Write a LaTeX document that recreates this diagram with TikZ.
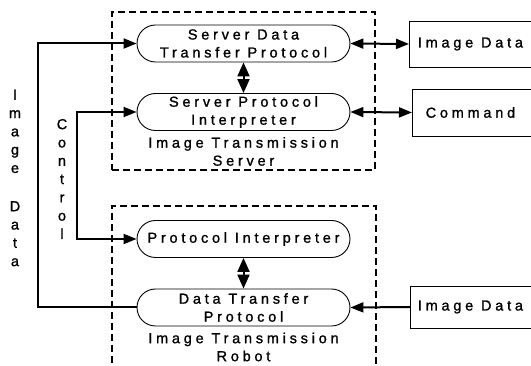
\documentclass[tikz,border=0pt]{standalone}
\usepackage{fontspec}
\setmainfont{Liberation Sans}[LetterSpace=26, FakeBold=1.2]
\usetikzlibrary{shapes.misc,arrows.meta}
\newcommand\dfont{\fontsize{14.5}{18}\selectfont}
\newcommand\vfont{\fontsize{14.5}{18.3}\selectfont}
\begin{document}
\begin{tikzpicture}[x=1pt,y=-1pt,
  pill/.style={rounded rectangle, draw, line width=0.9pt, minimum width=213pt,
    minimum height=37pt, inner sep=0pt, align=center, font=\dfont},
  lbl/.style={align=center, inner sep=0pt, font=\dfont},
  dbox/.style={draw, line width=1.6pt, dash pattern=on 7pt off 4pt, inner sep=0pt},
  rbox/.style={draw, line width=0.9pt, anchor=west, minimum width=130pt,
    inner sep=0pt, font=\dfont},
  vtext/.style={align=center, inner sep=0pt, font=\vfont},
  conn/.style={line width=2pt, arrows={-Triangle[length=13pt,width=10pt]}},
  biconn/.style={line width=2pt, arrows={Triangle[length=13pt,width=10pt]-Triangle[length=13pt,width=10pt]}},
  vconn/.style={line width=2pt, arrows={Triangle[length=14pt,width=12pt]-Triangle[length=14pt,width=12pt]}},
]
\clip (0,0) rectangle (531,366);
\useasboundingbox (0,0) rectangle (531,366);

% dashed enclosures
\node[dbox, minimum width=263pt, minimum height=158pt] (srv) at (243.5,91) {};
\node[dbox, minimum width=264pt, minimum height=180pt] (rob) at (244,296) {};

% pills
\node[pill, fill=white] (sdtp) at (243.5,43.5) {Server Data\\Transfer Protocol};
\node[pill, fill=white] (spi) at (243.5,112) {Server Protocol\\Interpreter};
\node[lbl] (slbl) at (243.5,151.5) {Image Transmission\\Server};
\node[pill, fill=white] (pi) at (243.5,239) {Protocol Interpreter};
\node[pill, fill=white] (dtp) at (243.5,307.5) {Data Transfer\\Protocol};
\node[lbl] (rlbl) at (243.5,347) {Image Transmission\\Robot};

% right boxes
\node[rbox, minimum height=46pt] (img1) at (409,44) {Image Data\kern8pt};
\node[rbox, minimum height=47pt] (cmd) at (412,112.5) {Command\kern14pt};
\node[rbox, minimum height=42pt] (img2) at (410,307) {Image Data\kern10pt};

% vertical labels
\node[vtext] (vimg) at (15,178) {I\\m\\a\\g\\e\\[20pt]D\\a\\t\\a};
\node[vtext] (vctl) at (62,179) {C\\o\\n\\t\\r\\o\\l};

% connectors
\draw[biconn] (sdtp.east) -- (img1.west);
\draw[biconn] (spi.east) -- (cmd.west);
\draw[conn] (img2.west) -- (dtp.east);
\draw[vconn] (sdtp.south) -- (spi.north);
\draw[vconn] (pi.south) -- (dtp.north);

\coordinate (c1) at (77,112);
\coordinate (c2) at (77,239);
\draw[biconn] (spi.west) -- (c1) -- (c2) -- (pi.west);

\coordinate (d1) at (38,307.5);
\coordinate (d2) at (38,43.5);
\draw[conn] (dtp.west) -- (d1) -- (d2) -- (sdtp.west);
\end{tikzpicture}
\end{document}
